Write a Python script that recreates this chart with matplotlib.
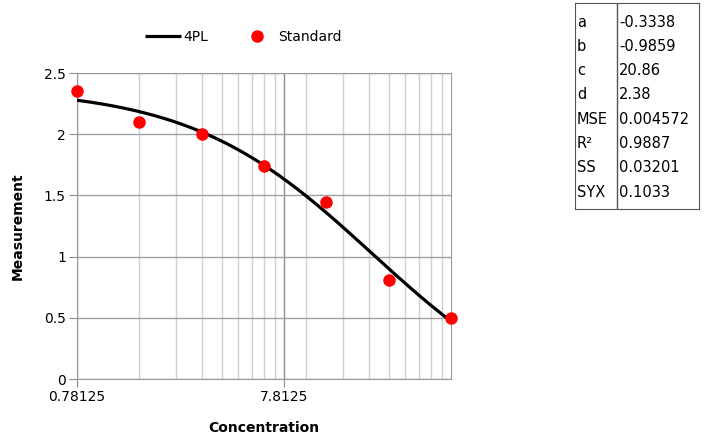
import matplotlib
matplotlib.use("Agg")
import matplotlib.pyplot as plt
import numpy as np
from matplotlib.ticker import FixedLocator, NullFormatter

# standard points
conc = [0.78125, 1.5625, 3.125, 6.25, 12.5, 25, 50]
meas = [2.35, 2.10, 2.00, 1.74, 1.45, 0.81, 0.50]

# fitted 4PL parameters and stats
names = ["a", "b", "c", "d", "MSE", "R²", "SS", "SYX"]
values = ["-0.3338", "-0.9859", "20.86", "2.38", "0.004572", "0.9887", "0.03201", "0.1033"]
a, b, c, d = -0.3338, -0.9859, 20.86, 2.38

x_major = [0.78125, 7.8125]
x_major_labels = ["0.78125", "7.8125"]
x_minor = [k * 0.78125 for k in range(2, 10)] + [10, 15, 20, 25, 30, 35, 40, 45]
y_ticks = [0, 0.5, 1, 1.5, 2, 2.5]

fig = plt.figure(figsize=(7.08, 4.44), dpi=100)
ax = fig.add_axes([77 / 708, 1 - 379 / 444, 374 / 708, 306 / 444])

xs = np.logspace(np.log10(conc[0]), np.log10(conc[-1]), 200)
ys = d + (a - d) / (1 + (xs / c) ** b)
ax.plot(xs, ys, color="black", lw=2.3, label="4PL", zorder=3, solid_capstyle="butt")
ax.plot(conc, meas, "o", color="#ff0000", ms=8, label="Standard", zorder=4, clip_on=False)

ax.set_xscale("log")
ax.set_xlim(0.78125, 50)
ax.set_ylim(0, 2.5)
ax.xaxis.set_major_locator(FixedLocator(x_major))
ax.xaxis.set_ticklabels(x_major_labels)
ax.xaxis.set_minor_locator(FixedLocator(x_minor))
ax.xaxis.set_minor_formatter(NullFormatter())
ax.set_yticks(y_ticks)
ax.set_yticklabels(["0", "0.5", "1", "1.5", "2", "2.5"])

ax.grid(True, which="major", axis="x", color="#8c8c8c", lw=1)
ax.grid(True, which="minor", axis="x", color="#d0d0d0", lw=1)
ax.grid(True, which="major", axis="y", color="#a0a0a0", lw=1)
ax.tick_params(which="minor", length=0)
ax.tick_params(which="major", length=6, color="#8c8c8c", labelsize=10, pad=2)
for s in ax.spines.values():
    s.set_color("#9a9a9a")

ax.set_xlabel("Concentration", fontsize=10, fontweight="bold", labelpad=12)
ax.set_ylabel("Measurement", fontsize=10, fontweight="bold", labelpad=14)

fig.legend(loc="center", bbox_to_anchor=(243 / 708, 1 - 37 / 444), ncol=2, frameon=False,
           fontsize=10, handlelength=2.6, columnspacing=2.2, handletextpad=0.2)

# parameter table
tax = fig.add_axes([575 / 708, 1 - 209 / 444, 124 / 708, 206 / 444])
tax.set_xlim(0, 124)
tax.set_ylim(206, 0)
tax.set_xticks([])
tax.set_yticks([])
for s in tax.spines.values():
    s.set_color("#555555")
tax.axvline(42, color="#555555", lw=1)
for i, (n, v) in enumerate(zip(names, values)):
    yy = 19 + i * 24.3
    tax.text(2, yy, n, fontsize=10.5, va="center", ha="left")
    tax.text(44, yy, v, fontsize=10.5, va="center", ha="left")

fig.savefig("out.png", dpi=100)
